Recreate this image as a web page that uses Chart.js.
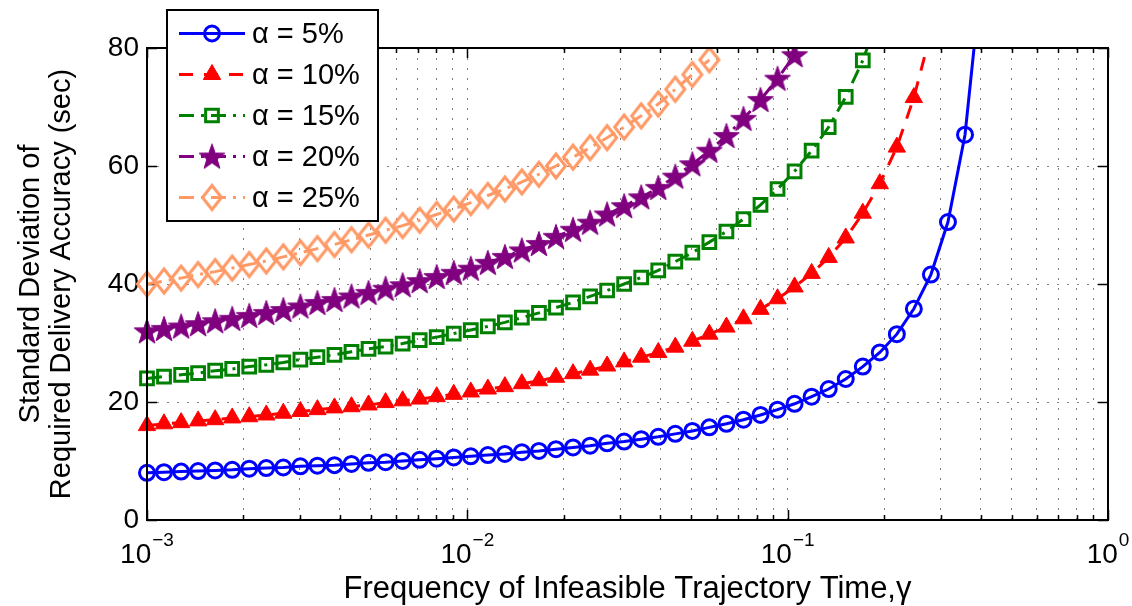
<!DOCTYPE html>
<html>
<head>
<meta charset="utf-8">
<title>Standard deviation of RDA vs gamma</title>
<script src="https://cdn.jsdelivr.net/npm/chart.js@4.4.1/dist/chart.umd.min.js"></script>
<style>
  html, body { margin: 0; padding: 0; background: #fff; }
  #wrap { width: 1132px; height: 606px; }
</style>
</head>
<body>
<div id="wrap"><canvas id="rdaChart" width="1132" height="606"></canvas></div>
<script>
// gamma values of the markers
var gammaVals = [0.001000, 0.001130, 0.001278, 0.001444, 0.001632, 0.001845, 0.002085, 0.002357, 0.002664, 0.003012,
  0.003404, 0.003848, 0.004349, 0.004916, 0.005556, 0.006281, 0.007099, 0.008024, 0.009070, 0.01025,
  0.01159, 0.01310, 0.01480, 0.01673, 0.01891, 0.02138, 0.02417, 0.02731, 0.03087, 0.03490,
  0.03945, 0.04459, 0.05040, 0.05696, 0.06439, 0.07278, 0.08226, 0.09298, 0.1051, 0.1188,
  0.1343, 0.1518, 0.1716, 0.1939, 0.2192, 0.2477, 0.2800, 0.3165, 0.3578, 0.4044];

var alpha5 = [8.0, 8.1, 8.2, 8.3, 8.4, 8.5, 8.7, 8.8, 8.9, 9.1, 9.2, 9.3, 9.5, 9.7, 9.8, 10.0, 10.2, 10.4, 10.6, 10.8,
  11.0, 11.2, 11.5, 11.7, 12.0, 12.3, 12.6, 13.0, 13.3, 13.7, 14.1, 14.6, 15.1, 15.7, 16.3, 17.0, 17.8, 18.7, 19.7, 20.9,
  22.2, 23.9, 26.0, 28.4, 31.5, 35.8, 41.6, 50.5, 65.3, 93.0];
var alpha10 = [16.0, 16.3, 16.5, 16.8, 17.0, 17.3, 17.5, 17.8, 18.1, 18.4, 18.7, 19.0, 19.2, 19.5, 19.9, 20.2, 20.5, 20.9, 21.3, 21.7,
  22.2, 22.6, 23.1, 23.6, 24.2, 24.8, 25.4, 26.1, 26.8, 27.6, 28.4, 29.3, 30.3, 31.5, 32.7, 34.1, 35.7, 37.5, 39.5, 41.8,
  44.5, 47.8, 52.0, 57.0, 63.2, 71.6, 82.6];
var alpha15 = [24.0, 24.3, 24.6, 24.9, 25.3, 25.6, 26.0, 26.3, 26.7, 27.2, 27.6, 28.0, 28.5, 29.0, 29.4, 29.9, 30.5, 31.0, 31.6, 32.2,
  32.8, 33.5, 34.3, 35.1, 36.0, 36.9, 37.9, 38.9, 40.0, 41.1, 42.3, 43.8, 45.3, 47.1, 48.9, 51.0, 53.4, 56.1, 59.1, 62.6,
  66.6, 71.7, 77.9, 86.0];
var alpha20 = [32.0, 32.4, 32.8, 33.2, 33.7, 34.1, 34.6, 35.1, 35.6, 36.2, 36.8, 37.3, 37.9, 38.5, 39.2, 39.8, 40.5, 41.2, 41.9, 42.6,
  43.6, 44.6, 45.7, 46.8, 48.0, 49.2, 50.4, 51.8, 53.2, 54.7, 56.3, 58.2, 60.3, 62.6, 65.1, 68.0, 71.2, 74.8, 78.8];
var alpha25 = [40.0, 40.5, 41.0, 41.6, 42.1, 42.7, 43.3, 43.9, 44.6, 45.3, 46.0, 46.7, 47.5, 48.3, 49.1, 49.9, 50.8, 51.8, 52.7, 53.8,
  55.0, 56.1, 57.3, 58.6, 60.0, 61.5, 63.1, 64.8, 66.6, 68.5, 70.5, 73.0, 75.5, 78.0];

var seriesNames = ['α = 5%', 'α = 10%', 'α = 15%', 'α = 20%', 'α = 25%'];
var yTicks = [0, 20, 40, 60, 80];
var xDecades = [0.001, 0.01, 0.1, 1];
var xExponents = ['\u22123', '\u22122', '\u22121', '0'];

var FONT = "'Liberation Sans', Arial, Helvetica, sans-serif";
Chart.defaults.font.family = FONT;

// filled pentagram marker
function makeStar(color) {
  var c = document.createElement('canvas');
  c.width = 30; c.height = 30;
  var g = c.getContext('2d');
  g.beginPath();
  for (var i = 0; i < 10; i++) {
    var r = (i % 2 === 0) ? 13.5 : 5.4;
    var a = -Math.PI / 2 + i * Math.PI / 5;
    var px = 15 + r * Math.cos(a), py = 16 + r * Math.sin(a);
    if (i === 0) g.moveTo(px, py); else g.lineTo(px, py);
  }
  g.closePath();
  g.fillStyle = color;
  g.fill();
  g.strokeStyle = color;
  g.lineWidth = 1;
  g.stroke();
  return c;
}

// hollow (slightly tall) diamond marker
function makeDiamond(color) {
  var c = document.createElement('canvas');
  c.width = 26; c.height = 30;
  var g = c.getContext('2d');
  g.beginPath();
  g.moveTo(13, 3); g.lineTo(22.5, 15); g.lineTo(13, 27); g.lineTo(3.5, 15);
  g.closePath();
  g.strokeStyle = color;
  g.lineWidth = 3;
  g.stroke();
  return c;
}

var starMark = makeStar('#800080');
var diamondMark = makeDiamond('#ff9966');

function toPoints(vals) {
  return vals.map(function (v, i) { return { x: gammaVals[i], y: v }; });
}

function makeSet(label, vals, color, dash, style, radius, fill, pbw) {
  return {
    label: label,
    data: toPoints(vals),
    borderColor: color,
    borderWidth: 3,
    borderDash: dash,
    pointStyle: style,
    pointRadius: radius,
    pointBorderColor: color,
    pointBackgroundColor: fill,
    pointBorderWidth: pbw,
    clip: { left: false, right: false, bottom: false, top: 1 }
  };
}

var sets = [
  makeSet(seriesNames[0], alpha5, '#0000ff', [], 'circle', 7.5, 'rgba(0,0,0,0)', 3),
  makeSet(seriesNames[1], alpha10, '#ff0000', [14, 11], 'triangle', 10, '#ff0000', 1),
  makeSet(seriesNames[2], alpha15, '#008000', [15, 7, 3, 7], 'rect', 9, 'rgba(0,0,0,0)', 3),
  makeSet(seriesNames[3], alpha20, '#800080', [15, 7, 3, 7], starMark, 12, '#800080', 0),
  makeSet(seriesNames[4], alpha25, '#ff9966', [15, 7, 3, 7], diamondMark, 12, 'rgba(0,0,0,0)', 0)
];

// box, inside ticks, x labels with exponents, legend
var axesFrame = {
  id: 'axesFrame',
  beforeDatasetsDraw: function (chart) {
    var ctx = chart.ctx, a = chart.chartArea, xs = chart.scales.x, ys = chart.scales.y;
    ctx.save();
    ctx.strokeStyle = '#000';
    ctx.lineWidth = 1.5;
    xs.ticks.forEach(function (t) {
      var px = Math.round(xs.getPixelForValue(t.value)) + 0.5;
      var len = xDecades.indexOf(t.value) >= 0 ? 10 : 5;
      ctx.beginPath();
      ctx.moveTo(px, a.bottom); ctx.lineTo(px, a.bottom - len);
      ctx.moveTo(px, a.top); ctx.lineTo(px, a.top + len);
      ctx.stroke();
    });
    ys.ticks.forEach(function (t) {
      var py = Math.round(ys.getPixelForValue(t.value)) + 0.5;
      ctx.beginPath();
      ctx.moveTo(a.left, py); ctx.lineTo(a.left + 10, py);
      ctx.moveTo(a.right, py); ctx.lineTo(a.right - 10, py);
      ctx.stroke();
    });
    ctx.restore();
  },
  afterDatasetsDraw: function (chart) {
    var ctx = chart.ctx, a = chart.chartArea;
    ctx.save();
    ctx.strokeStyle = '#000';
    ctx.lineWidth = 2;
    ctx.strokeRect(a.left, a.top, a.right - a.left, a.bottom - a.top);
    ctx.restore();
  },
  afterDraw: function (chart) {
    var ctx = chart.ctx, xs = chart.scales.x;
    ctx.save();
    ctx.fillStyle = '#000';
    ctx.textAlign = 'left';
    ctx.textBaseline = 'alphabetic';
    xDecades.forEach(function (d, i) {
      var px = xs.getPixelForValue(d);
      ctx.font = '28px ' + FONT;
      var wBase = ctx.measureText('10').width;
      ctx.font = '19px ' + FONT;
      var wExp = ctx.measureText(xExponents[i]).width;
      var x0 = px - (wBase + 1 + wExp) / 2;
      ctx.font = '28px ' + FONT;
      ctx.fillText('10', x0, 563);
      ctx.font = '19px ' + FONT;
      ctx.fillText(xExponents[i], x0 + wBase + 1, 546);
    });

    // legend box
    ctx.fillStyle = '#fff';
    ctx.fillRect(167, 10, 211, 211);
    ctx.strokeStyle = '#000';
    ctx.lineWidth = 2;
    ctx.strokeRect(167, 10, 211, 211);
    chart.data.datasets.forEach(function (ds, i) {
      var y = 33.5 + 41 * i;
      ctx.save();
      ctx.strokeStyle = ds.borderColor;
      ctx.lineWidth = ds.borderWidth;
      ctx.setLineDash(ds.borderDash);
      ctx.beginPath();
      ctx.moveTo(179, y); ctx.lineTo(245, y);
      ctx.stroke();
      ctx.setLineDash([]);
      ctx.fillStyle = ds.pointBackgroundColor;
      ctx.strokeStyle = ds.pointBorderColor;
      ctx.lineWidth = ds.pointBorderWidth;
      Chart.helpers.drawPoint(ctx, {
        pointStyle: ds.pointStyle, radius: ds.pointRadius, rotation: 0, borderWidth: ds.pointBorderWidth
      }, 212, y);
      ctx.restore();
      ctx.fillStyle = '#000';
      ctx.font = '29px ' + FONT;
      ctx.textBaseline = 'middle';
      ctx.fillText(ds.label, 252, y + 1.5);
    });
    ctx.restore();
  }
};

var ctxR = document.getElementById('rdaChart').getContext('2d');
var rdaChart = new Chart(ctxR, {
  type: 'line',
  data: { datasets: sets },
  plugins: [axesFrame],
  options: {
    responsive: false,
    animation: false,
    devicePixelRatio: 1,
    layout: { padding: { top: 48, right: 24, bottom: 0, left: 10 } },
    plugins: { legend: { display: false }, tooltip: { enabled: false } },
    scales: {
      x: {
        type: 'logarithmic',
        min: 0.001,
        max: 1,
        afterBuildTicks: function (scale) {
          var t = [];
          xDecades.forEach(function (d, i) {
            if (i < xDecades.length - 1) {
              for (var m = 1; m < 10; m++) t.push({ value: +(d * m).toPrecision(3) });
            } else {
              t.push({ value: d });
            }
          });
          scale.ticks = t;
        },
        afterFit: function (scale) { scale.height = 86; },
        ticks: { display: false },
        grid: { color: '#808080', lineWidth: 1, drawTicks: false },
        border: { display: false, dash: [2, 8] },
        title: {
          display: true,
          text: 'Frequency of Infeasible Trajectory Time,γ',
          color: '#000',
          font: { size: 31, lineHeight: 1 },
          padding: { top: 0, bottom: 1.5 }
        }
      },
      y: {
        min: 0,
        max: 80,
        afterBuildTicks: function (scale) {
          scale.ticks = yTicks.map(function (v) { return { value: v }; });
        },
        afterFit: function (scale) { scale.width = 137; },
        ticks: { color: '#000', font: { size: 28 }, padding: 8 },
        grid: { color: '#808080', lineWidth: 1, drawTicks: false },
        border: { display: false, dash: [2, 8] },
        title: {
          display: true,
          text: ['Standard Deviation of', 'Required Delivery Accuracy (sec)'],
          color: '#000',
          font: { size: 29, lineHeight: 1.07 },
          padding: { top: 5, bottom: 0 }
        }
      }
    }
  }
});
</script>
</body>
</html>
